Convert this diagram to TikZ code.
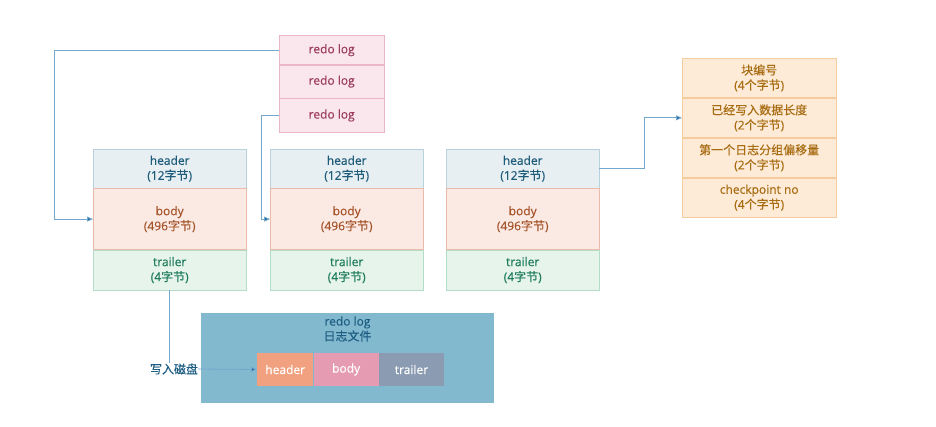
\documentclass[tikz,border=0pt]{standalone}
\usepackage{fontspec}
\setmainfont{Open Sans}[FakeBold=0.3]
\newfontfamily\cjk{Noto Sans CJK SC}[FakeBold=0.3]
\usetikzlibrary{arrows.meta,positioning}

\definecolor{hdrfill}{HTML}{E7EFF3}
\definecolor{hdrline}{HTML}{B9D1DD}
\definecolor{hdrtext}{HTML}{1F5C7A}
\definecolor{bdyfill}{HTML}{FBEAE4}
\definecolor{bdyline}{HTML}{EBBBA9}
\definecolor{bdytext}{HTML}{A5542A}
\definecolor{trlfill}{HTML}{E6F4EC}
\definecolor{trlline}{HTML}{B3DDC6}
\definecolor{trltext}{HTML}{1E7B5C}
\definecolor{redofill}{HTML}{FAE7ED}
\definecolor{redoline}{HTML}{EBB7C6}
\definecolor{redotext}{HTML}{9B3C5C}
\definecolor{fldfill}{HTML}{FDEBD7}
\definecolor{fldline}{HTML}{F6CB9E}
\definecolor{fldtext}{HTML}{A86C12}
\definecolor{filefill}{HTML}{83B9CF}
\definecolor{filetext}{HTML}{1E5E84}
\definecolor{parthdr}{HTML}{F1A17F}
\definecolor{partbdy}{HTML}{E59BB1}
\definecolor{parttrl}{HTML}{8B9BB1}
\definecolor{linkline}{HTML}{72A8CB}
\definecolor{linktip}{HTML}{2B6CA3}

\begin{document}
\begin{tikzpicture}[x=1pt, y=-1pt,
	every node/.style={align=center, inner sep=0pt, font=\fontsize{12}{15}\selectfont},
	hdr/.style={draw=hdrline, fill=hdrfill, text=hdrtext, minimum width=153pt, minimum height=39pt},
	bdy/.style={draw=bdyline, fill=bdyfill, text=bdytext, minimum width=153pt, minimum height=61pt},
	trl/.style={draw=trlline, fill=trlfill, text=trltext, minimum width=153pt, minimum height=40pt},
	redo/.style={draw=redoline, fill=redofill, text=redotext, minimum width=105pt},
	fld/.style={draw=fldline, fill=fldfill, text=fldtext, minimum width=154pt, minimum height=39.5pt},
	part/.style={text=white, minimum height=33pt},
	link/.style={draw=linkline, line width=0.8pt, -{Triangle[length=6pt, width=5pt, fill=linktip]}},
	plain/.style={draw=linkline, line width=0.8pt}]
	\useasboundingbox (0,0) rectangle (936,427);

	% redo log stack
	\node[redo, minimum height=29pt, anchor=north west] (redoA) at (279,35.5) {redo log};
	\node[redo, minimum height=33pt, below=0pt of redoA] (redoB) {redo log};
	\node[redo, minimum height=34pt, below=0pt of redoB] (redoC) {redo log};

	% log blocks
	\node[hdr, anchor=north west] (hdrA) at (93,149) {header\\(12{\cjk 字节})};
	\node[bdy, below=0pt of hdrA] (bdyA) {body\\(496{\cjk 字节})};
	\node[trl, below=0pt of bdyA] (trlA) {trailer\\(4{\cjk 字节})};

	\node[hdr, anchor=north west] (hdrB) at (270,149) {header\\(12{\cjk 字节})};
	\node[bdy, below=0pt of hdrB] (bdyB) {body\\(496{\cjk 字节})};
	\node[trl, below=0pt of bdyB] (trlB) {trailer\\(4{\cjk 字节})};

	\node[hdr, anchor=north west] (hdrC) at (446,149) {header\\(12{\cjk 字节})};
	\node[bdy, below=0pt of hdrC] (bdyC) {body\\(496{\cjk 字节})};
	\node[trl, below=0pt of bdyC] (trlC) {trailer\\(4{\cjk 字节})};

	% header fields
	\node[fld, anchor=north west] (fldA) at (682,58) {{\cjk 块编号}\\(4{\cjk 个字节})};
	\node[fld, below=0pt of fldA] (fldB) {{\cjk 已经写入数据长度}\\(2{\cjk 个字节})};
	\node[fld, below=0pt of fldB] (fldC) {{\cjk 第一个日志分组偏移量}\\(2{\cjk 个字节})};
	\node[fld, below=0pt of fldC] (fldD) {checkpoint no\\(4{\cjk 个字节})};

	% redo log file
	\node[fill=filefill, minimum width=293pt, minimum height=90pt] (file) at (347.5,358) {};
	\node[text=filetext] (fileLbl) at (347.5,329) {redo log\\{\cjk 日志文件}};
	\node[part, fill=parthdr, minimum width=56pt, anchor=west] (fh) at (257,369.5) {header};
	\node[part, fill=partbdy, minimum width=65pt, right=0pt of fh] (fb) {body};
	\node[part, fill=parttrl, minimum width=65pt, right=0pt of fb] (ft) {trailer};
	\node[text=filetext] (wr) at (174,369) {\cjk 写入磁盘};

	\coordinate (bendA) at (54,0);
	\coordinate (bendB) at (261,0);
	\coordinate (bendC) at (644,0);

	\draw[link] (redoA.west) -| (bendA |- bdyA.west) -- (bdyA.west);
	\draw[link] (redoC.west) -| (bendB |- bdyB.west) -- (bdyB.west);
	\draw[link] (hdrC.east) -| (bendC |- fldB.west) -- (fldB.west);
	\draw[plain] (trlA.south) -- (trlA.south |- wr.north);
	\draw[link] (wr.east) -- (fh.west);
\end{tikzpicture}
\end{document}
